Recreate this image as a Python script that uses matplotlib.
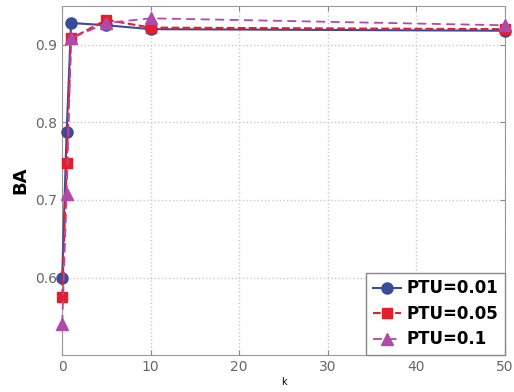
import matplotlib
matplotlib.use('Agg')
import matplotlib.pyplot as plt

# k values and BA for each PTU setting
k = [0, 0.5, 1, 5, 10, 50]
ba_001 = [0.600, 0.787, 0.928, 0.925, 0.920, 0.918]
ba_005 = [0.575, 0.748, 0.908, 0.932, 0.922, 0.920]
ba_01 = [0.540, 0.707, 0.908, 0.928, 0.934, 0.925]
labels = ['PTU=0.01', 'PTU=0.05', 'PTU=0.1']

fig = plt.figure(figsize=(5.14, 3.92), dpi=100)
ax = fig.add_axes([0.121, 0.094, 0.861, 0.891])

ax.plot(k, ba_001, color='#3c4a9c', linestyle='-', marker='o', markersize=8,
        linewidth=1.5, label=labels[0], clip_on=False, zorder=3)
ax.plot(k, ba_005, color='#e41e2a', linestyle='--', marker='s', markersize=7,
        linewidth=1.5, label=labels[1], clip_on=False, zorder=3)
ax.plot(k, ba_01, color='#b04aa8', linestyle=(0, (5, 3)), marker='^', markersize=8,
        linewidth=1.3, label=labels[2], clip_on=False, zorder=3)

ax.set_xlim(0, 50)
ax.set_ylim(0.5, 0.95)
ax.set_xticks([0, 10, 20, 30, 40, 50])
ax.set_yticks([0.6, 0.7, 0.8, 0.9])
ax.set_yticklabels(['0.6', '0.7', '0.8', '0.9'])
ax.grid(True, linestyle=':', color='#c8c8c8', linewidth=1)
ax.tick_params(labelsize=10, labelcolor='#666666', color='#888888', direction='in',
               top=True, right=True)
for s in ax.spines.values():
    s.set_color('#999999')

ax.set_ylabel('BA', fontsize=13, fontweight='bold')
ax.set_xlabel('k', fontsize=7, labelpad=2)

leg = ax.legend(loc='lower right', prop={'weight': 'bold', 'size': 12},
                fancybox=False, handlelength=1.7, handletextpad=0.3,
                borderaxespad=0.0, labelspacing=0.45, borderpad=0.4)
leg.get_frame().set_edgecolor('#888888')
leg.get_frame().set_alpha(1)

plt.savefig('out.png', dpi=100)
